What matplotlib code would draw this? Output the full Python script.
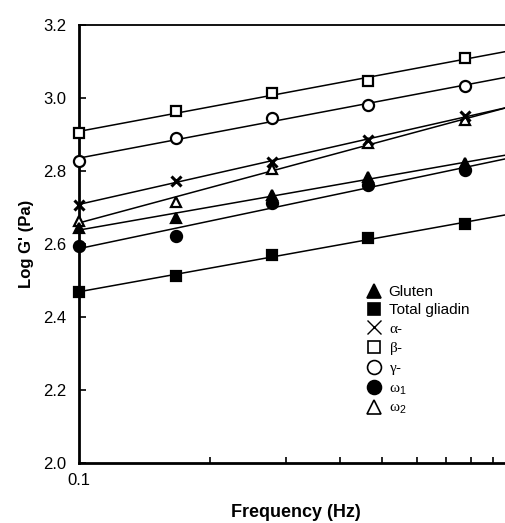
import numpy as np
import matplotlib
matplotlib.use("Agg")
import matplotlib.pyplot as plt
from matplotlib import ticker
from matplotlib.lines import Line2D

plt.rcParams['font.family'] = ['Liberation Sans', 'DejaVu Sans']
plt.rcParams['mathtext.fontset'] = 'custom'
plt.rcParams['mathtext.rm'] = 'Liberation Sans'
plt.rcParams['mathtext.it'] = 'Liberation Serif'
plt.rcParams['mathtext.bf'] = 'Liberation Sans:bold'

# frequencies (Hz) and Log G' values
freq = [0.1, 0.167, 0.278, 0.464, 0.774]
gluten = [2.645, 2.672, 2.733, 2.784, 2.821]
total_gliadin = [2.469, 2.512, 2.570, 2.616, 2.655]
alpha = [2.708, 2.773, 2.824, 2.885, 2.951]
beta = [2.903, 2.964, 3.015, 3.046, 3.109]
gamma = [2.828, 2.891, 2.944, 2.981, 3.033]
omega1 = [2.595, 2.622, 2.711, 2.762, 2.803]
omega2 = [2.664, 2.716, 2.805, 2.876, 2.940]

labels = ['Gluten', 'Total gliadin', r'$\alpha$-', r'$\beta$-', r'$\gamma$-',
          r'$\omega_\mathrm{1}$', r'$\omega_\mathrm{2}$']
series = [gluten, total_gliadin, alpha, beta, gamma, omega1, omega2]
markers = ['^', 's', 'x', 's', 'o', 'o', '^']
faces = ['black', 'black', 'black', 'white', 'white', 'black', 'white']

fig = plt.figure(figsize=(5.05, 5.23), dpi=100)
ax = fig.add_axes([79/505, 60/523, 434/505, 438/523])

xs = np.log10(freq)
xline = np.array([0.1, 1.0])
for vals in series:
    b, a = np.polyfit(xs, vals, 1)
    ax.plot(xline, a + b*np.log10(xline), color='black', lw=1.1, zorder=2)

for vals, m, fc in zip(series, markers, faces):
    z = 4 if fc == 'black' else 3
    if m == 'x':
        ax.plot(freq, vals, ls='none', marker='x', ms=7, mew=2.2,
                color='black', zorder=z, clip_on=False)
    else:
        ax.plot(freq, vals, ls='none', marker=m, ms=7.5 if m != 'o' else 8,
                mfc=fc, mec='black', mew=1.6, zorder=z, clip_on=False)

ax.set_xscale('log')
ax.set_xlim(0.1, 1.0)
ax.set_ylim(2.0, 3.2)
ax.xaxis.set_major_locator(ticker.FixedLocator([0.1]))
ax.xaxis.set_major_formatter(ticker.FixedFormatter(['0.1']))
ax.xaxis.set_minor_locator(ticker.FixedLocator([0.2, 0.3, 0.4, 0.5, 0.6, 0.7, 0.8, 0.9]))
ax.xaxis.set_minor_formatter(ticker.NullFormatter())
ax.yaxis.set_major_locator(ticker.MultipleLocator(0.2))
ax.yaxis.set_major_formatter(ticker.FormatStrFormatter('%.1f'))

ax.tick_params(which='both', direction='in', labelsize=12, width=1.2)
ax.tick_params(axis='y', which='major', length=5, pad=9, left=True)
ax.tick_params(axis='x', which='major', length=0, pad=7)
ax.tick_params(axis='x', which='minor', length=4)
for s in ['left', 'bottom']:
    ax.spines[s].set_linewidth(2)
ax.spines['top'].set_linewidth(1.3)

ax.set_xlabel('Frequency (Hz)', fontsize=13, fontweight='bold', labelpad=12)
ax.set_ylabel("Log G' (Pa)", fontsize=12, fontweight='bold', labelpad=7)

handles = []
for m, fc in zip(markers, faces):
    if m == 'x':
        handles.append(Line2D([], [], ls='none', marker='x', ms=10, mew=1.0, color='black'))
    else:
        handles.append(Line2D([], [], ls='none', marker=m, ms=10 if m != 's' else 9,
                              mfc=fc, mec='black', mew=1.2))
ax.legend(handles, labels, loc='upper left', bbox_to_anchor=(0.645, 0.42),
          frameon=False, fontsize=11, handletextpad=0.35, labelspacing=0.28,
          handlelength=1.2, borderaxespad=0)

fig.savefig('out.png', dpi=100)
